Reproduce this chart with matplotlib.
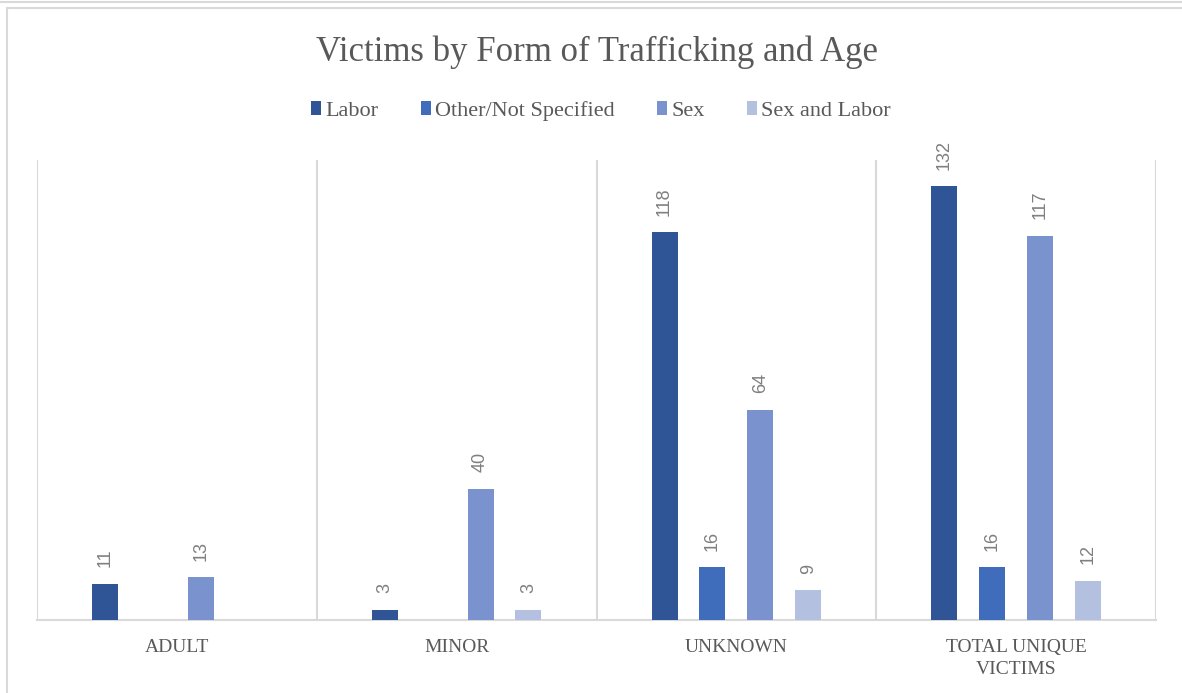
import matplotlib
matplotlib.use("Agg")
import matplotlib.pyplot as plt
from matplotlib.lines import Line2D
from matplotlib.patches import Patch
import numpy as np

categories = ["ADULT", "MINOR", "UNKNOWN", "TOTAL UNIQUE\nVICTIMS"]
series_names = ["Labor", "Other/Not Specified", "Sex", "Sex and Labor"]
labor = [11, 3, 118, 132]
other = [0, 0, 16, 16]
sex = [13, 40, 64, 117]
sex_labor = [0, 3, 9, 12]
colors = ["#2F5597", "#3F6CBB", "#7A93CF", "#B4C0E0"]

fig = plt.figure(figsize=(11.82, 6.93), dpi=100)
W, H = 1182, 693
ax = fig.add_axes([37 / W, 1 - 620 / H, (1156 - 37) / W, (620 - 160) / H])

series = [labor, other, sex, sex_labor]
x = np.arange(len(categories))
offsets = [-1.5, -0.5, 0.5, 1.5]
step = 0.171
bw = 0.093
for vals, off, col in zip(series, offsets, colors):
    bars = ax.bar(x + off * step, vals, width=bw, color=col, zorder=3)
    for b, v in zip(bars, vals):
        if v > 0:
            ax.annotate(str(v), (b.get_x() + b.get_width() / 2, v),
                        xytext=(0, 12), textcoords="offset points",
                        rotation=90, ha="center", va="bottom",
                        fontsize=13, color="#7F7F7F", family="Liberation Sans")

ax.set_xlim(-0.5, 3.5)
ax.set_ylim(0, 140)
ax.set_yticks([])
ax.set_xticks(x)
ax.set_xticklabels(categories, family="Liberation Serif", fontsize=14,
                   color="#595959", linespacing=1.35)
ax.tick_params(axis="x", length=0, pad=14)
for s in ["top", "right", "left"]:
    ax.spines[s].set_visible(False)
ax.spines["bottom"].set_color("#D9D9D9")
ax.spines["bottom"].set_linewidth(1.5)
for b in np.arange(-0.5, 4.0, 1.0):
    ax.axvline(b, color="#D9D9D9", lw=1.5, zorder=1, ymax=1)

fig.suptitle("Victims by Form of Trafficking and Age", x=597 / W, y=1 - 52 / H,
             va="center", family="Liberation Serif", fontsize=25, color="#595959")

handles = [Patch(facecolor=c, edgecolor="none") for c in colors]
fig.legend(handles, series_names, loc="center", bbox_to_anchor=(601 / W, 1 - 111 / H),
           ncol=4, frameon=False, prop={"family": "Liberation Serif", "size": 16},
           labelcolor="#595959", handlelength=0.45, handleheight=0.6,
           handletextpad=0.2, columnspacing=1.9)

# outer chart border
fig.add_artist(Line2D([0, 1], [1 - 2 / H, 1 - 2 / H], color="#D9D9D9", lw=1.5,
                      transform=fig.transFigure))
fig.add_artist(Line2D([7 / W, 1], [1 - 8 / H, 1 - 8 / H], color="#D9D9D9", lw=1.5,
                      transform=fig.transFigure))
fig.add_artist(Line2D([7 / W, 7 / W], [0, 1 - 8 / H], color="#D9D9D9", lw=1.5,
                      transform=fig.transFigure))

fig.savefig("out.png", dpi=100)
